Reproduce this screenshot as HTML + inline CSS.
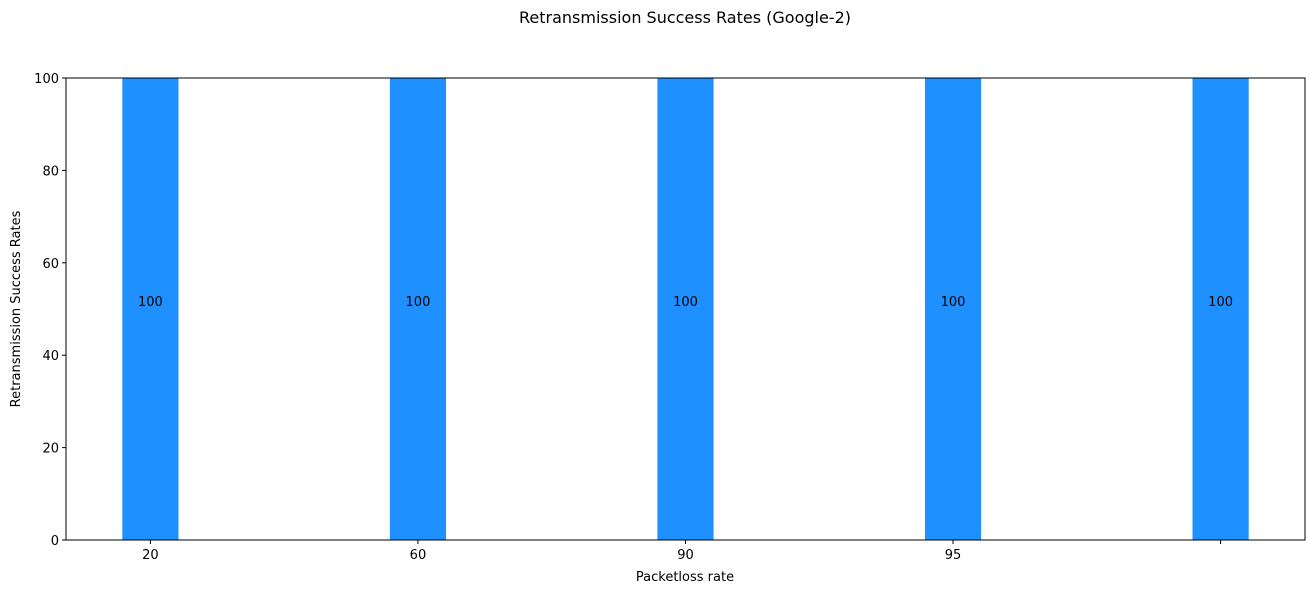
<!DOCTYPE html>
<html><head><meta charset="utf-8"><style>
body{margin:0;background:#fff;font-family:"DejaVu Sans","Liberation Sans",sans-serif;}
</style></head><body>
<svg width="1315" height="593" xmlns="http://www.w3.org/2000/svg" font-family="DejaVu Sans, Liberation Sans, sans-serif">
<text x="685" y="23" text-anchor="middle" font-size="16">Retransmission Success Rates (Google-2)</text>
<g id="plot"></g>
<text x="685" y="581" text-anchor="middle" font-size="13">Packetloss rate</text>
<text transform="translate(20,309) rotate(-90)" text-anchor="middle" font-size="13">Retransmission Success Rates</text>
</svg>
<script>
const categories = ["20","60","90","95",""];
const values = [100,100,100,100,100];
const yTicks = [0,20,40,60,80,100];
const L=66,R=1305,T=78,B=540,barW=0.21;
const n=categories.length;
const xmin=-barW/2-0.05*(n-1+barW), xmax=n-1+barW/2+0.05*(n-1+barW);
const xs=i=>L+(i-xmin)/(xmax-xmin)*(R-L);
const ys=v=>B-(v/100)*(B-T);
const ns="http://www.w3.org/2000/svg";
const g=document.getElementById('plot');
function mk(t,a){const e=document.createElementNS(ns,t);for(const k in a)e.setAttribute(k,a[k]);g.appendChild(e);return e;}
const pw=barW/(xmax-xmin)*(R-L);
values.forEach((v,i)=>{
 const r=mk('rect',{x:xs(i)-pw/2,y:ys(v),width:pw,height:B-ys(v),fill:'#1e90ff'});
 
 
 const t=mk('text',{x:xs(i),y:ys(v/2)-3,'text-anchor':'middle','font-size':'13'});
 t.textContent=String(v);
 
 
 const tk=mk('line',{x1:xs(i),x2:xs(i),y1:B,y2:B+4,stroke:'#000'});
 
 
 const tl=mk('text',{x:xs(i),y:B+19,'text-anchor':'middle','font-size':'13'});
 tl.textContent=categories[i];
 
 
});
yTicks.forEach(v=>{
 const tk=mk('line',{x1:L-4,x2:L,y1:ys(v),y2:ys(v),stroke:'#000'});
 
 
 const tl=mk('text',{x:L-7,y:ys(v)+5,'text-anchor':'end','font-size':'13'});
 tl.textContent=String(v);
 
 
});
const fr=mk('rect',{x:L,y:T,width:R-L,height:B-T,fill:'none',stroke:'#000','stroke-width':1});


</script>
</body></html>
